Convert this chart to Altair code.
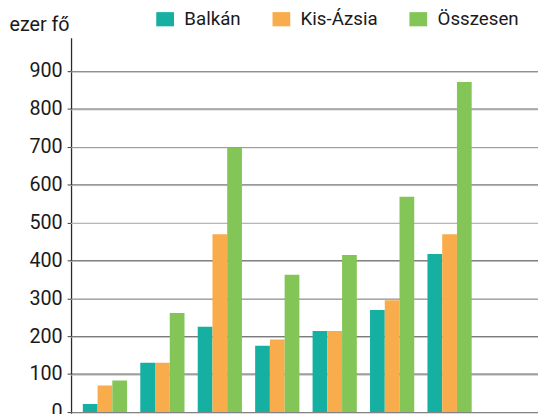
import altair as alt
import pandas as pd

categories = ["1", "2", "3", "4", "5", "6", "7"]
series = ["Balkán", "Kis-Ázsia", "Összesen"]
balkan = [21, 130, 225, 175, 214, 269, 417]
kis_azsia = [70, 130, 469, 191, 214, 295, 469]
osszesen = [83, 261, 697, 362, 414, 568, 871]
y_ticks = [0, 100, 200, 300, 400, 500, 600, 700, 800, 900]
colors = ["#15b0a2", "#f9ac4b", "#83c556"]

rows = []
for i, c in enumerate(categories):
    for s, vals in zip(series, [balkan, kis_azsia, osszesen]):
        rows.append({"cat": c, "series": s, "value": vals[i]})
df = pd.DataFrame(rows)
grid_df = pd.DataFrame({"v": y_ticks})

FONT = "Roboto"

yscale = alt.Scale(domain=[-26.2, 987.8], nice=False, zero=False)
yaxis = alt.Axis(
    values=y_ticks,
    title="ezer fő",
    titleAngle=0,
    titleAlign="left",
    titleBaseline="alphabetic",
    titleX=-63,
    titleY=-7.7,
    titleFont=FONT,
    titleFontSize=20,
    titleFontWeight="normal",
    titleColor="#1a1a1a",
    labelFont=FONT,
    labelFontSize=20,
    labelColor="#1a1a1a",
    labelPadding=5,
    tickSize=4,
    tickColor="#3c3c3c",
    domainColor="#2a2a2a",
    domainWidth=1.3,
    gridColor="#3c3c3c",
    gridWidth=1,
    gridOpacity=1,
)

shadow = alt.Chart(grid_df).mark_rule(color="#b8b8b8", strokeWidth=1, yOffset=1).encode(
    y=alt.Y("v:Q", scale=yscale, axis=yaxis, title="ezer fő")
)

bars = alt.Chart(df).mark_bar(clip=True).encode(
    x=alt.X(
        "cat:N",
        sort=categories,
        scale=alt.Scale(paddingInner=0.23, paddingOuter=0.68, align=0.151),
        axis=None,
    ),
    xOffset=alt.XOffset(
        "series:N", sort=series, scale=alt.Scale(paddingInner=0, paddingOuter=0)
    ),
    y=alt.Y("value:Q", scale=yscale, axis=yaxis, title="ezer fő"),
    color=alt.Color(
        "series:N",
        sort=series,
        scale=alt.Scale(domain=series, range=colors),
        legend=alt.Legend(
            title=None,
            orient="none",
            direction="horizontal",
            legendX=86,
            legendY=-28.5,
            padding=0,
            symbolType="M-1,-0.8L1,-0.8L1,0.8L-1,0.8Z",
            symbolSize=324,
            symbolStrokeWidth=0,
            symbolOpacity=1,
            labelFont=FONT,
            labelFontSize=19,
            labelColor="#1a1a1a",
            labelOffset=10,
            columnPadding=31,
        ),
    ),
)

chart = (
    alt.layer(shadow, bars)
    .properties(
        width=474,
        height=390,
        autosize=alt.AutoSizeParams(type="none"),
        padding={"left": 64, "top": 27, "right": 0, "bottom": 0},
        background="white",
    )
    .configure_view(stroke=None)
)

chart.save("out.html", embed_options={"renderer": "svg", "actions": False})
